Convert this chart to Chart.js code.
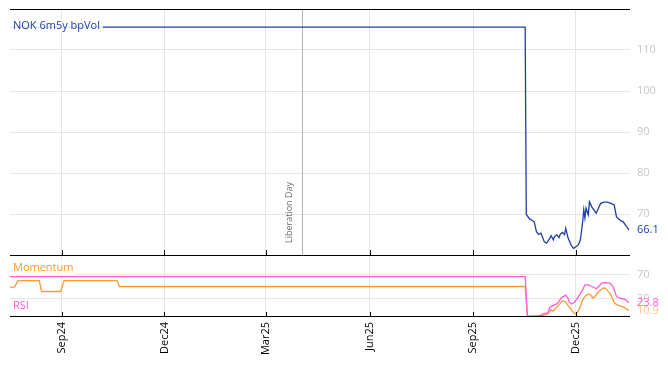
<!DOCTYPE html>
<html>
<head>
<meta charset="utf-8">
<script src="https://cdn.jsdelivr.net/npm/chart.js@4.4.1/dist/chart.umd.min.js"></script>
<style>
  html, body { margin: 0; padding: 0; background: #fff; }
</style>
</head>
<body>
<canvas id="c" width="668" height="366"></canvas>
<script>
// NOK 6m5y bp vol
const volDates = ['2024-07-17','2025-10-17','2025-10-18','2025-10-21','2025-10-25','2025-10-27','2025-10-29','2025-10-31',
  '2025-11-03','2025-11-05','2025-11-08','2025-11-09','2025-11-11','2025-11-12','2025-11-14','2025-11-16','2025-11-17',
  '2025-11-19','2025-11-21','2025-11-22','2025-11-24','2025-11-27','2025-11-29','2025-12-01','2025-12-03','2025-12-05',
  '2025-12-07','2025-12-08','2025-12-09','2025-12-10','2025-12-12','2025-12-13','2025-12-15','2025-12-17','2025-12-19',
  '2025-12-21','2025-12-23','2025-12-26','2025-12-29','2026-01-01','2026-01-04','2026-01-06','2026-01-08','2026-01-10',
  '2026-01-12','2026-01-15','2026-01-17'];
const volValues = [115.6,115.6,69.9,68.8,68.1,65.7,65.0,65.3,
  63.2,62.9,64.1,64.7,63.7,64.5,64.9,64.2,65.0,
  65.5,65.0,66.5,64.2,62.3,61.6,62.0,62.4,63.7,
  68.1,71.0,69.0,71.4,69.8,73.0,71.8,71.0,70.2,
  71.4,72.6,72.9,72.9,72.6,72.2,69.3,68.8,68.3,
  68.1,66.9,66.1];

const rsiDates = ['2024-07-17','2025-10-17','2025-10-19','2025-10-28','2025-10-30','2025-11-02','2025-11-06','2025-11-08',
  '2025-11-11','2025-11-14','2025-11-16','2025-11-18','2025-11-20','2025-11-22','2025-11-24','2025-11-25','2025-11-27',
  '2025-11-30','2025-12-02','2025-12-04','2025-12-07','2025-12-09','2025-12-12','2025-12-15','2025-12-17','2025-12-19',
  '2025-12-22','2025-12-24','2025-12-27','2025-12-31','2026-01-03','2026-01-06','2026-01-08','2026-01-11','2026-01-14',
  '2026-01-17'];
const rsiValues = [67.1,67.1,1,1,2,5.3,6.9,16.1,
  19.4,21.7,26,31.6,34.2,35.9,31.6,25,21.7,
  25,30.4,35.9,45.2,53.5,53.5,50.7,49,46.9,
  52.3,56.3,57.2,56.3,50.7,34.2,31.6,30.4,28.8,
  23.8];

const momDates = ['2024-07-17','2024-07-21','2024-07-24','2024-08-12','2024-08-14','2024-08-31','2024-09-03','2024-10-20',
  '2024-10-22','2025-10-17','2025-10-19','2025-11-03','2025-11-06','2025-11-08','2025-11-09','2025-11-11','2025-11-12',
  '2025-11-14','2025-11-16','2025-11-18','2025-11-20','2025-11-22','2025-11-24','2025-11-27','2025-11-29','2025-12-01',
  '2025-12-03','2025-12-05','2025-12-07','2025-12-09','2025-12-12','2025-12-14','2025-12-16','2025-12-18','2025-12-20',
  '2025-12-23','2025-12-25','2025-12-27','2025-12-29','2026-01-01','2026-01-04','2026-01-07','2026-01-10','2026-01-13',
  '2026-01-17'];
const momValues = [49.7,49.7,60.5,60.5,42.4,42.4,60.5,60.5,
  50.7,50.7,1,2.9,5.3,9.5,12.3,9.5,12.3,
  16.1,20.6,25,27.1,25,19.4,12.3,6.9,5.3,
  9.5,17.8,28.8,34.2,38.2,37,31.6,34.2,39.8,
  45.2,48,48,43.8,37.3,23.7,19.7,18.1,15.5,
  10.9];

const tickDates = ['2024-09-01','2024-12-01','2025-03-01','2025-06-01','2025-09-01','2025-12-01'];
const tickLabels = ['Sep24','Dec24','Mar25','Jun25','Sep25','Dec25'];
const volTicks = [70, 80, 90, 100, 110];
const oscTicks = [30, 70];
const eventDate = '2025-04-02';
const eventLabel = 'Liberation Day';

const BLUE = '#1c3fa6';
const ORANGE = '#ff9a2e';
const PINK = '#ff5ad9';
const FONT = '"Open Sans", "DejaVu Sans", sans-serif';

const day = s => Date.UTC(+s.slice(0, 4), +s.slice(5, 7) - 1, +s.slice(8, 10)) / 86400000;
const pts = (dates, values) => dates.map((d, i) => ({ x: day(d), y: values[i] }));

const overlay = {
  id: 'overlay',
  beforeDatasetsDraw(chart) {
    const { ctx, scales: { x, y } } = chart;
    const ex = Math.round(x.getPixelForValue(day(eventDate))) + 0.5;
    ctx.save();
    ctx.strokeStyle = '#b4b4b4';
    ctx.lineWidth = 1;
    ctx.beginPath();
    ctx.moveTo(ex, y.top);
    ctx.lineTo(ex, y.bottom);
    ctx.stroke();
    ctx.translate(ex - 13, y.bottom - 12);
    ctx.rotate(-Math.PI / 2);
    ctx.fillStyle = '#6b6b6b';
    ctx.font = '9px ' + FONT;
    ctx.textBaseline = 'middle';
    ctx.textAlign = 'left';
    ctx.fillText(eventLabel, 0, 0);
    ctx.restore();
  },
  afterDatasetsDraw(chart) {
    const { ctx, chartArea: a, scales: { x, y, y2 } } = chart;
    ctx.save();
    // panel frames
    ctx.strokeStyle = '#000';
    ctx.lineWidth = 1;
    [Math.round(a.top) + 0.5, Math.round(y.bottom) + 0.5, Math.round(a.bottom) - 0.5].forEach(yy => {
      ctx.beginPath();
      ctx.moveTo(a.left, yy);
      ctx.lineTo(a.right, yy);
      ctx.stroke();
    });
    // inward tick marks
    x.ticks.forEach(t => {
      const px = Math.round(x.getPixelForValue(t.value)) + 0.5;
      [y.bottom, y2.bottom].forEach(py => {
        ctx.beginPath();
        ctx.moveTo(px, py);
        ctx.lineTo(px, py - 5);
        ctx.stroke();
      });
    });

    // series labels
    ctx.font = '11px ' + FONT;
    ctx.textBaseline = 'middle';
    const tag = (text, color, px, py) => {
      const w = ctx.measureText(text).width;
      ctx.fillStyle = 'rgba(255,255,255,0.85)';
      ctx.fillRect(a.left, py - 7, px - a.left + w + 3, 14);
      ctx.fillStyle = color;
      ctx.textAlign = 'left';
      ctx.fillText(text, px, py);
    };
    tag('NOK 6m5y bpVol', BLUE, a.left + 3, y.getPixelForValue(volValues[0]) - 1);
    tag('Momentum', ORANGE, a.left + 3, y2.top + 13);
    tag('RSI', PINK, a.left + 3, y2.bottom - 11);

    // last values
    ctx.textAlign = 'left';
    const lx = a.right + 7;
    ctx.fillStyle = BLUE;
    ctx.fillText(volValues[volValues.length - 1].toFixed(1), lx, y.getPixelForValue(volValues[volValues.length - 1]));
    ctx.fillStyle = '#ffc890';
    ctx.fillText(momValues[momValues.length - 1].toFixed(1), lx, y2.getPixelForValue(momValues[momValues.length - 1]));
    ctx.fillStyle = PINK;
    ctx.fillText(rsiValues[rsiValues.length - 1].toFixed(1), lx, y2.getPixelForValue(rsiValues[rsiValues.length - 1]));
    ctx.restore();
  }
};

const yAxis = (ticks, min, max, weight) => ({
  type: 'linear',
  position: 'right',
  stack: 'panels',
  stackWeight: weight,
  min: min,
  max: max,
  afterBuildTicks: s => { s.ticks = ticks.map(v => ({ value: v })); },
  afterFit: s => { s.width = 38; s.paddingTop = 0; s.paddingBottom = 0; },
  border: { display: false },
  grid: { color: '#e6e6e6', drawTicks: false },
  ticks: { color: '#c8c8c8', padding: 7, font: { family: FONT, size: 11 } }
});

new Chart(document.getElementById('c'), {
  type: 'line',
  data: {
    datasets: [
      { label: 'NOK 6m5y bpVol', data: pts(volDates, volValues), yAxisID: 'y', borderColor: BLUE, borderWidth: 1.3 },
      { label: 'RSI', data: pts(rsiDates, rsiValues), yAxisID: 'y2', borderColor: PINK, borderWidth: 1.3 },
      { label: 'Momentum', data: pts(momDates, momValues), yAxisID: 'y2', borderColor: ORANGE, borderWidth: 1.3 }
    ]
  },
  options: {
    responsive: false,
    animation: false,
    devicePixelRatio: 1,
    layout: { padding: { left: 10, top: 9, right: 0, bottom: 0 } },
    elements: { point: { radius: 0 }, line: { tension: 0 } },
    plugins: { legend: { display: false }, tooltip: { enabled: false } },
    scales: {
      x: {
        type: 'linear',
        min: day('2024-07-17'),
        max: day('2026-01-18'),
        afterBuildTicks: s => { s.ticks = tickDates.map(d => ({ value: day(d) })); },
        afterFit: s => { s.height = 49; s.paddingLeft = 0; s.paddingRight = 0; },
        border: { display: false },
        grid: { color: '#e6e6e6', drawTicks: false },
        ticks: {
          autoSkip: false,
          maxRotation: 90,
          minRotation: 90,
          padding: 5,
          color: '#000',
          font: { family: FONT, size: 11 },
          callback: (v, i) => tickLabels[i]
        }
      },
      y: yAxis(volTicks, 60, 120, 246),
      y2: yAxis(oscTicks, 0, 103, 62)
    }
  },
  plugins: [overlay]
});
</script>
</body>
</html>
